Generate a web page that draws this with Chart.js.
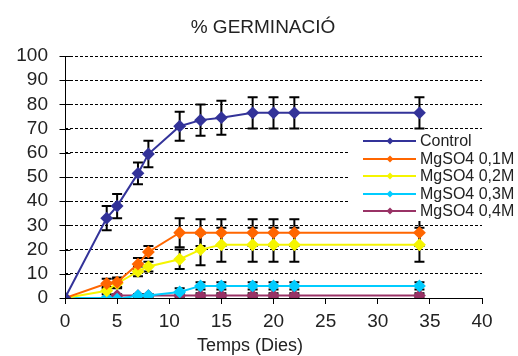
<!DOCTYPE html>
<html>
<head>
<meta charset="utf-8">
<script src="https://cdn.jsdelivr.net/npm/chart.js@4/dist/chart.umd.min.js"></script>
<style>
  html, body { margin: 0; padding: 0; background: #fff; }
  #wrap { width: 518px; height: 356px; }
</style>
</head>
<body>
<div id="wrap"><canvas id="germChart" width="518" height="356"></canvas></div>
<script>
const days = [0, 4, 5, 7, 8, 11, 13, 15, 18, 20, 22, 34];
const seriesNames = ['Control', 'MgSO4 0,1M', 'MgSO4 0,2M', 'MgSO4 0,3M', 'MgSO4 0,4M'];
const control = [0, 33, 38, 51.5, 59.5, 71, 73.5, 74.5, 76.5, 76.5, 76.5, 76.5];
const mg01 = [0, 6, 6.5, 14, 19, 27, 27, 27, 27, 27, 27, 27];
const mg02 = [0, 3, 6, 11, 13, 16, 20, 22, 22, 22, 22, 22];
const mg03 = [0, 0, -0.5, 1, 1, 2.5, 5, 5, 5, 5, 5, 5];
const mg04 = [0, 0, 1, 1, 1, 1, 1, 1, 1, 1, 1, 1];
const errControl = [0, 5, 5, 4.5, 5.5, 6, 6.5, 7, 6.5, 6.5, 6.5, 6.5];
const err01 = [0, 2, 2, 2.5, 2.5, 6, 5.5, 5.5, 5.5, 5.5, 5.5, 5.5];
const err02 = [0, 1.5, 2, 2, 2, 4, 6.5, 7, 7, 7, 7, 7];
const err03 = [0, 0, 0.5, 0.5, 0.5, 1.5, 1.5, 1.5, 1.5, 1.5, 1.5, 1.5];
const err04 = [0, 0, 0.5, 0.5, 0.5, 1, 1, 1, 1, 1, 1, 1];
const xTicks = [0, 5, 10, 15, 20, 25, 30, 35, 40];
const yTicks = [0, 10, 20, 30, 40, 50, 60, 70, 80, 90, 100];

const colors = ['#333399', '#FF6600', '#F5F500', '#00CCFF', '#993366'];
const values = [control, mg01, mg02, mg03, mg04];
const errors = [errControl, err01, err02, err03, err04];
const FONT = '"Liberation Sans", Arial, sans-serif';

const datasets = values.map((vals, i) => ({
    label: seriesNames[i],
    data: vals.map((v, j) => ({ x: days[j], y: v })),
    errs: errors[i],
    borderColor: colors[i],
    backgroundColor: colors[i],
    borderWidth: 2,
    pointStyle: 'rectRot',
    pointRadius: 5,
    pointHoverRadius: 5,
    tension: 0
}));

// error bars go under the markers, titles + legend on top
const errorBars = {
    id: 'errorBars',
    beforeDatasetsDraw(chart) {
        const c = chart.ctx;
        const xs = chart.scales.x, ys = chart.scales.y;
        c.save();
        c.strokeStyle = '#000';
        c.lineWidth = 2;
        chart.data.datasets.forEach(ds => {
            ds.data.forEach((p, j) => {
                const e = ds.errs[j];
                if (!e) return;
                const px = xs.getPixelForValue(p.x);
                const top = ys.getPixelForValue(p.y + e);
                const bot = ys.getPixelForValue(Math.max(p.y - e, ys.min));
                c.beginPath();
                c.moveTo(px, top); c.lineTo(px, bot);
                c.moveTo(px - 5, top); c.lineTo(px + 5, top);
                if (p.y - e >= ys.min) { c.moveTo(px - 5, bot); c.lineTo(px + 5, bot); }
                c.stroke();
            });
        });
        c.restore();
    },
    afterDraw(chart) {
        const c = chart.ctx;
        const ys = chart.scales.y;
        c.save();
        // y axis line + crossing ticks
        c.strokeStyle = '#000';
        c.lineWidth = 1;
        c.setLineDash([]);
        const ax = Math.round(ys.right) + 0.5;
        c.beginPath();
        c.moveTo(ax, ys.top); c.lineTo(ax, ys.bottom);
        yTicks.forEach(v => {
            const py = Math.round(ys.getPixelForValue(v)) + 0.5;
            c.moveTo(ax - 6, py); c.lineTo(ax + 5, py);
        });
        c.stroke();
        // titles
        c.fillStyle = '#222';
        c.textAlign = 'center';
        c.textBaseline = 'middle';
        c.font = '19px ' + FONT;
        c.fillText('% GERMINACIÓ', 263, 28);
        c.font = '18px ' + FONT;
        c.fillText('Temps (Dies)', 250, 346);
        // legend box
        c.fillStyle = '#fff';
        c.fillRect(349, 132, 169, 89);
        const rowY = [141, 159, 176, 194, 211];
        chart.data.datasets.forEach((ds, i) => {
            const y = rowY[i];
            c.strokeStyle = ds.borderColor;
            c.lineWidth = 2;
            c.beginPath();
            c.moveTo(363, y); c.lineTo(416, y);
            c.stroke();
            c.fillStyle = ds.borderColor;
            c.beginPath();
            c.moveTo(390, y - 3.5); c.lineTo(393.5, y); c.lineTo(390, y + 3.5); c.lineTo(386.5, y);
            c.closePath();
            c.fill();
            c.fillStyle = '#222';
            c.textAlign = 'left';
            c.font = '16px ' + FONT;
            c.fillText(ds.label, 420, y + 1);
        });
        c.restore();
    }
};

const ctx = document.getElementById('germChart').getContext('2d');
const germChart = new Chart(ctx, {
    type: 'line',
    data: { datasets: datasets },
    options: {
        responsive: false,
        animation: false,
        layout: { padding: { top: 56, right: 36, left: 0, bottom: 0 } },
        plugins: {
            legend: { display: false },
            title: { display: false },
            tooltip: { enabled: false }
        },
        scales: {
            x: {
                type: 'linear',
                min: 0,
                max: 40,
                afterBuildTicks: s => { s.ticks = xTicks.map(v => ({ value: v })); },
                afterFit: s => { s.height = 58; },
                border: { color: '#000', width: 1 },
                grid: { drawOnChartArea: false, color: '#000', tickLength: 6 },
                ticks: { color: '#222', font: { family: FONT, size: 19 }, padding: 6, maxRotation: 0, autoSkip: false }
            },
            y: {
                min: 0,
                max: 100,
                afterBuildTicks: s => { s.ticks = yTicks.map(v => ({ value: v })); },
                afterFit: s => { s.width = 65; },
                border: { display: false, dash: [3, 2] },
                grid: { color: '#000', tickLength: 0, lineWidth: 1 },
                ticks: { color: '#222', font: { family: FONT, size: 19 }, padding: 17, autoSkip: false }
            }
        }
    },
    plugins: [errorBars]
});
</script>
</body>
</html>
